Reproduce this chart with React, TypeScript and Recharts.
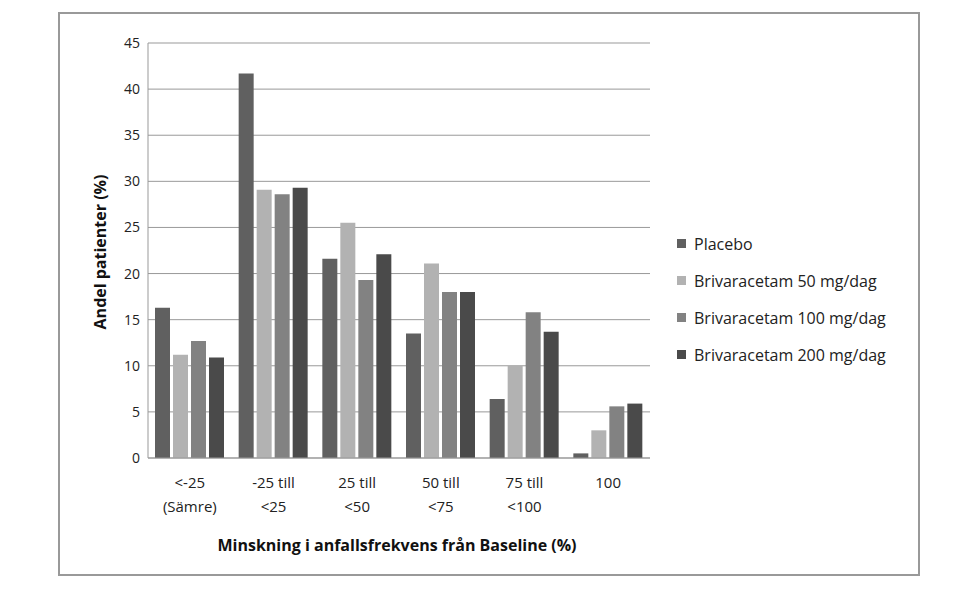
import { BarChart, Bar, XAxis, YAxis, CartesianGrid } from "recharts";

const categories = ["<-25|(Sämre)", "-25 till|<25", "25 till|<50", "50 till|<75", "75 till|<100", "100"];
const placebo = [16.3, 41.7, 21.6, 13.5, 6.4, 0.5];
const briva50 = [11.2, 29.1, 25.5, 21.1, 10.0, 3.0];
const briva100 = [12.7, 28.6, 19.3, 18.0, 15.8, 5.6];
const briva200 = [10.9, 29.3, 22.1, 18.0, 13.7, 5.9];
const yTicks = [0, 5, 10, 15, 20, 25, 30, 35, 40, 45];

const series = [
  { key: "placebo", name: "Placebo", color: "#606060" },
  { key: "b50", name: "Brivaracetam 50 mg/dag", color: "#b2b2b2" },
  { key: "b100", name: "Brivaracetam 100 mg/dag", color: "#828282" },
  { key: "b200", name: "Brivaracetam 200 mg/dag", color: "#4a4a4a" },
];

const data = categories.map((c, i) => ({
  cat: c,
  placebo: placebo[i],
  b50: briva50[i],
  b100: briva100[i],
  b200: briva200[i],
}));

const font = "'Open Sans', 'Liberation Sans', sans-serif";

function CatTick({ x, y, payload }: any) {
  const lines = String(payload.value).split("|");
  return (
    <text x={x} y={y + 22} textAnchor="middle" fontSize={15} fill="#222" fontFamily={font}>
      {lines.map((l, i) => (
        <tspan key={i} x={x} dy={i === 0 ? 0 : 24}>{l}</tspan>
      ))}
    </text>
  );
}

export default function App() {
  return (
    <div style={{ marginLeft: 50, marginTop: 4, width: 858, height: 560, border: "2px solid #999", position: "relative", background: "#fff" }}>
      <BarChart width={858} height={560} data={data} margin={{ top: 29, right: 268, left: 48, bottom: 56 }}
        barGap={3} barSize={15}>
        <CartesianGrid vertical={false} stroke="#999" />
        <XAxis dataKey="cat" tick={<CatTick />} tickLine={false} axisLine={{ stroke: "#999" }} height={60} interval={0} />
        <YAxis domain={[0, 45]} ticks={yTicks} tickLine={false} axisLine={{ stroke: "#999" }} width={40}
          tick={{ fontSize: 14, fill: "#222", fontFamily: font }} />
        {series.map((s) => (
          <Bar key={s.key} dataKey={s.key} name={s.name} fill={s.color} isAnimationActive={false} />
        ))}
      </BarChart>
      <div style={{ position: "absolute", left: 675 - 58, top: 223 - 12, fontFamily: font, fontSize: 16, color: "#222" }}>
        {series.map((s) => (
          <div key={s.key} style={{ display: "flex", alignItems: "center", height: 37 }}>
            <div style={{ width: 9, height: 9, background: s.color, marginRight: 8 }} />
            {s.name}
          </div>
        ))}
      </div>
      <div style={{ position: "absolute", left: 395 - 58, top: 543 - 12, transform: "translate(-50%, -50%)", fontFamily: font, fontWeight: "bold", fontSize: 16, whiteSpace: "nowrap", color: "#111" }}>
        Minskning i anfallsfrekvens från Baseline (%)
      </div>
      <div style={{ position: "absolute", left: 98 - 58, top: 250 - 12, transform: "translate(-50%, -50%) rotate(-90deg)", fontFamily: font, fontWeight: "bold", fontSize: 16, whiteSpace: "nowrap", color: "#111" }}>
        Andel patienter (%)
      </div>
    </div>
  );
}
